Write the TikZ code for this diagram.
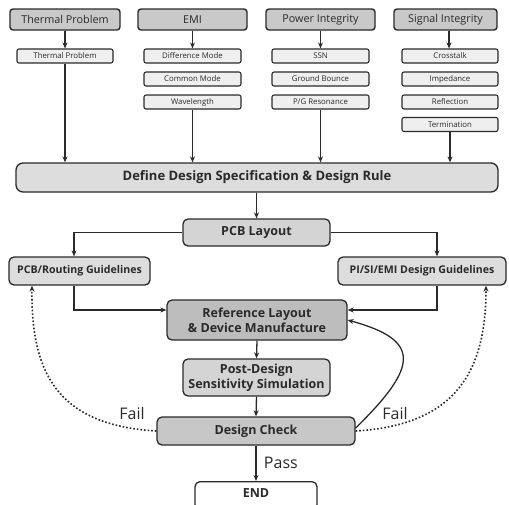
\documentclass[tikz,border=0pt]{standalone}
\usepackage{fontspec}
\setmainfont{Open Sans}
\usetikzlibrary{arrows.meta,calc}
\definecolor{topfill}{HTML}{C9C9C9}
\definecolor{subfill}{HTML}{EFEFEF}
\definecolor{deffill}{HTML}{DDDDDD}
\definecolor{midfill}{HTML}{D4D4D4}
\definecolor{reffill}{HTML}{BDBDBD}
\definecolor{ink}{HTML}{2A2A2A}
\tikzset{
  topbox/.style={draw=ink, line width=1.4pt, rounded corners=3pt, fill=topfill, inner sep=0pt,
    minimum height=21pt, font=\fontsize{10.8}{12}\selectfont, text=ink},
  subbox/.style={draw=ink, line width=1.1pt, rounded corners=2pt, fill=subfill, inner sep=0pt,
    minimum height=14pt, font=\fontsize{7.8}{8}\selectfont, text=ink},
  mainbox/.style={draw=ink, line width=1.3pt, rounded corners=5pt, fill=midfill, inner sep=0pt,
    font=\fontsize{12.5}{15}\selectfont\bfseries, text=ink, align=center},
  guidebox/.style={mainbox, fill=deffill, minimum height=28pt, font=\fontsize{10.6}{12}\selectfont\bfseries},
  arr/.style={draw=ink, line width=1.3pt, -{Stealth[length=6pt,width=5pt]}},
  failarr/.style={draw=ink, line width=1.6pt, dotted, -{Stealth[length=6pt,width=5pt]}},
  lbl/.style={font=\fontsize{16}{18}\selectfont, text=ink},
}
\begin{document}
\begin{tikzpicture}[x=1pt,y=-1pt]
\useasboundingbox (0,0) rectangle (509,504);
\clip (0,0) rectangle (509,504);
% top row
\node[topbox, minimum width=110pt] (tp) at (65,19.5) {Thermal Problem};
\node[topbox, minimum width=109pt] (emi) at (192.5,19.5) {EMI};
\node[topbox, minimum width=109pt] (pi) at (320.5,19.5) {Power Integrity};
\node[topbox, minimum width=103pt] (si) at (445.5,19.5) {Signal Integrity};
% sub boxes
\node[subbox, minimum width=96pt] (tps) at (65,56) {Thermal Problem};
\node[subbox, minimum width=97pt] (dm) at (192.5,56) {Difference Mode};
\node[subbox, minimum width=97pt] (cm) at (192.5,79) {Common Mode};
\node[subbox, minimum width=97pt] (wl) at (192.5,102) {Wavelength};
\node[subbox, minimum width=97pt] (ssn) at (320.5,56) {SSN};
\node[subbox, minimum width=97pt] (gb) at (320.5,79) {Ground Bounce};
\node[subbox, minimum width=97pt] (pg) at (320.5,102) {P/G Resonance};
\node[subbox, minimum width=96pt] (ct) at (450,56) {Crosstalk};
\node[subbox, minimum width=96pt] (imp) at (450,79) {Impedance};
\node[subbox, minimum width=96pt] (refl) at (450,102) {Reflection};
\node[subbox, minimum width=96pt] (term) at (450,124.5) {Termination};
% main
\node[mainbox, fill=deffill, rounded corners=7pt, minimum width=482pt, minimum height=29pt, font=\fontsize{13}{15}\selectfont\bfseries] (def) at (257,177.5) {Define Design Specification \& Design Rule};
\node[mainbox, minimum width=147pt, minimum height=27pt] (pcb) at (256.5,232.5) {PCB Layout};
\node[guidebox, minimum width=141pt] (prg) at (79.5,271) {PCB/Routing Guidelines};
\node[guidebox, minimum width=168pt] (gdl) at (422,271) {PI/SI/EMI Design Guidelines};
\node[mainbox, fill=reffill, minimum width=180pt, minimum height=40pt] (ref) at (257,320) {Reference Layout\\\& Device Manufacture};
\node[mainbox, minimum width=147pt, minimum height=37pt] (post) at (256.5,377.5) {Post-Design\\Sensitivity Simulation};
\node[mainbox, fill=deffill!90!black, minimum width=198pt, minimum height=28pt] (dc) at (256,431) {Design Check};
\node[mainbox, fill=white, minimum width=122pt, minimum height=28pt, anchor=north] (end) at (256,481) {\raisebox{6pt}{END}};
% arrows top
\draw[arr] (tp.south -| tps.north) -- (tps.north);
\draw[arr] (emi.south -| dm.north) -- (dm.north);
\draw[arr] (pi.south -| ssn.north) -- (ssn.north);
\draw[arr] ([xshift=-1pt]si.south -| ct.north) -- ([xshift=-1pt]ct.north);
\draw[arr] (tps.south) -- (tps.south |- def.north);
\draw[arr] (wl.south) -- (wl.south |- def.north);
\draw[arr] (pg.south) -- (pg.south |- def.north);
\draw[arr] (term.south) -- (term.south |- def.north);
% middle
\draw[arr] (def.south -| pcb.north) -- (pcb.north);
\draw[arr] (pcb.west) -| ([xshift=-5.5pt]prg.north);
\draw[arr] (pcb.east) -| ([xshift=15pt]gdl.north);
\draw[arr] ([xshift=-5.5pt]prg.south) |- ([yshift=10pt]ref.west);
\draw[arr] ([xshift=15pt]gdl.south) |- ([yshift=10pt]ref.east);
\draw[arr] (ref.south) -- (post.north);
\draw[arr] (post.south) -- (dc.north);
\draw[arr] (dc.south) -- node[lbl, right, xshift=4pt] {Pass} (end.north);
% feedback
\draw[failarr] (dc.west) .. controls (55,425) and (31,370) .. ([xshift=-47.5pt]prg.south);
\draw[failarr] (dc.east) .. controls (457,425) and (486,370) .. ([xshift=64pt]gdl.south);
\draw[arr] ([yshift=3pt]dc.east) .. controls (420,365) and (420,340) .. (ref.east);
\node[lbl] (f1) at (132,413) {Fail};
\node[lbl] (f2) at (395,413) {Fail};
\end{tikzpicture}
\end{document}
